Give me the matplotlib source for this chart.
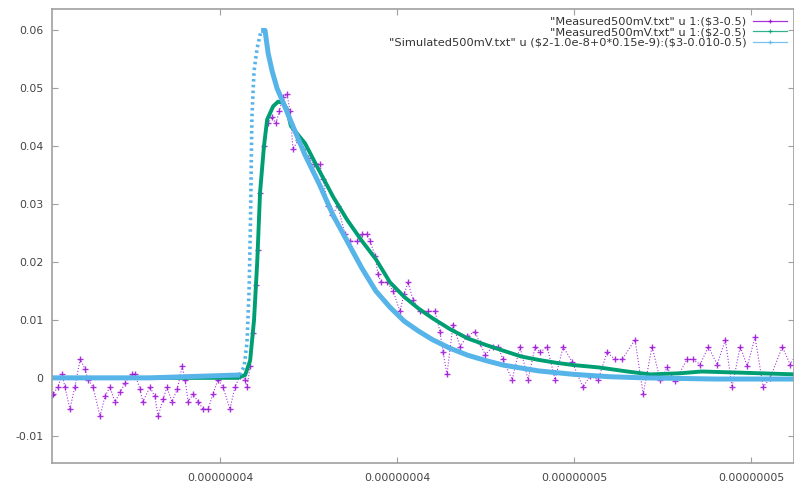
import numpy as np
import matplotlib
matplotlib.use("Agg")
import matplotlib.pyplot as plt
from matplotlib.lines import Line2D

# ---- data (time in ns, signal in V) ----
meas3_t = [35.25, 35.28, 35.42, 35.54, 35.62, 35.76, 35.90, 36.05, 36.19, 36.27, 36.41,
           36.61, 36.75, 36.89, 37.03, 37.18, 37.32, 37.51, 37.60, 37.74, 37.82,
           38.02, 38.16, 38.25, 38.39, 38.50, 38.64, 38.79, 38.93, 39.01, 39.10,
           39.24, 39.38, 39.52, 39.66, 39.80, 39.94, 40.08, 40.28, 40.42, 40.56,
           40.71, 40.76, 40.85, 40.93, 41.02, 41.07, 41.13, 41.24, 41.36, 41.47,
           41.58, 41.67, 41.78, 41.89, 41.98, 42.06, 42.20, 42.34, 42.49, 42.66,
           42.82, 42.91, 43.05, 43.16, 43.33, 43.53, 43.67, 43.87, 44.01, 44.15,
           44.24, 44.38, 44.46, 44.55, 44.72, 44.89, 45.08, 45.20, 45.31, 45.45,
           45.65, 45.88, 46.07, 46.21, 46.30, 46.41, 46.58, 46.78, 46.98, 47.20,
           47.34, 47.49, 47.71, 47.85, 47.99, 48.25, 48.47, 48.70, 48.90, 49.04,
           49.24, 49.46, 49.69, 49.94, 50.25, 50.45, 50.68, 50.93, 51.16, 51.36,
           51.72, 51.95, 52.20, 52.43, 52.63, 52.85, 53.19, 53.36, 53.56, 53.79,
           54.04, 54.27, 54.46, 54.69, 54.89, 55.11, 55.34, 55.54, 55.88, 56.10, 56.27]
meas3_v = [-0.0030, -0.0028, -0.0016, 0.0006, -0.0016, -0.0054, -0.0015, 0.0032, 0.0015, -0.0003, -0.0015,
           -0.0066, -0.0032, -0.0016, -0.0041, -0.0025, -0.0008, 0.0006, 0.0006, -0.0020, -0.0041,
           -0.0016, -0.0032, -0.0066, -0.0037, -0.0016, -0.0041, -0.0020, 0.0020, -0.0003, -0.0041,
           -0.0028, -0.0041, -0.0054, -0.0054, -0.0028, -0.0003, -0.0015, -0.0054, -0.0016, 0.0003,
           -0.0003, -0.0016, 0.0020, 0.0078, 0.0160, 0.0220, 0.0320, 0.0400, 0.0440, 0.0450,
           0.0440, 0.0460, 0.0485, 0.0490, 0.0460, 0.0395, 0.0410, 0.0395, 0.0380, 0.0370,
           0.0369, 0.0343, 0.0296, 0.0282, 0.0296, 0.0248, 0.0236, 0.0236, 0.0248, 0.0248,
           0.0236, 0.0210, 0.0179, 0.0165, 0.0165, 0.0150, 0.0115, 0.0145, 0.0165, 0.0135,
           0.0115, 0.0115, 0.0115, 0.0080, 0.0044, 0.0006, 0.0092, 0.0054, 0.0072, 0.0080,
           0.0060, 0.0040, 0.0054, 0.0054, 0.0032, -0.0003, 0.0054, -0.0003, 0.0054, 0.0044,
           0.0054, -0.0003, 0.0054, 0.0028, -0.0016, 0.0003, -0.0003, 0.0044, 0.0032, 0.0032,
           0.0066, -0.0028, 0.0054, -0.0003, 0.0018, -0.0006, 0.0032, 0.0032, 0.0023, 0.0054,
           0.0023, 0.0066, -0.0016, 0.0054, 0.0020, 0.0070, -0.0016, 0.0000, 0.0054, 0.0023, 0.0040]

meas2_t = [35.25, 38.00, 40.50, 40.71, 40.85, 40.96, 41.05, 41.13, 41.24, 41.33, 41.50,
           41.64, 41.78, 41.89, 42.00, 42.40, 42.80, 43.20, 43.60, 44.00, 44.40,
           44.80, 45.20, 45.60, 46.00, 46.50, 47.00, 47.50, 48.00, 48.50, 49.00,
           49.50, 50.00, 50.70, 51.50, 52.15, 53.00, 53.60, 54.70, 56.27]
meas2_v = [0.0000, 0.0000, 0.0000, 0.0005, 0.0030, 0.0100, 0.0200, 0.0320, 0.0400, 0.0446, 0.0469,
           0.0477, 0.0475, 0.0464, 0.0435, 0.0405, 0.0358, 0.0312, 0.0272, 0.0237, 0.0205,
           0.0165, 0.0140, 0.0120, 0.0103, 0.0084, 0.0068, 0.0057, 0.0047, 0.0037, 0.0031,
           0.0026, 0.0022, 0.0018, 0.0011, 0.0006, 0.0008, 0.0011, 0.0009, 0.0006]

sim_t = [35.25, 38.00, 40.56, 40.68, 40.76, 40.82, 40.86, 40.90, 40.96, 41.05, 41.16,
         41.27, 41.36, 41.47, 41.61, 41.78, 42.00, 42.40, 42.80, 43.20, 43.60,
         44.00, 44.40, 44.80, 45.20, 45.60, 46.00, 46.50, 47.00, 47.50, 48.00,
         48.50, 49.00, 50.00, 51.00, 52.00, 54.00, 56.27]
sim_v = [0.0000, 0.0000, 0.0005, 0.0020, 0.0060, 0.0150, 0.0270, 0.0450, 0.0530, 0.0570, 0.0600,
         0.0600, 0.0560, 0.0530, 0.0500, 0.0476, 0.0443, 0.0385, 0.0335, 0.0280, 0.0235,
         0.0190, 0.0150, 0.0122, 0.0098, 0.0081, 0.0066, 0.0051, 0.0039, 0.0030, 0.0022,
         0.0017, 0.0012, 0.0006, 0.0002, 0.0000, -0.0002, -0.0002]

labels = ['"Measured500mV.txt" u 1:($3-0.5)',
          '"Measured500mV.txt" u 1:($2-0.5)',
          '"Simulated500mV.txt" u ($2-1.0e-8+0*0.15e-9):($3-0.010-0.5)']

xticks_ns = [40, 45, 50, 55]
xtick_labels = ['0.00000004', '0.00000004', '0.00000005', '0.00000005']
yticks = [-0.01, 0, 0.01, 0.02, 0.03, 0.04, 0.05, 0.06]
ytick_labels = ['-0.01', '0', '0.01', '0.02', '0.03', '0.04', '0.05', '0.06']

purple = '#9400d3'
green = '#009e73'
blue = '#56b4e9'
gray = '#a0a0a0'

plt.rcParams['font.family'] = ['DejaVu Sans']
plt.rcParams['text.parse_math'] = False  # labels contain $ signs

fig = plt.figure(figsize=(7.94, 4.91), dpi=100)
ax = fig.add_axes([52 / 794, 1 - 463 / 491, 1 - 52 / 794, (463 - 9) / 491])

t3 = np.array(meas3_t) * 1e-9
t2 = np.array(meas2_t) * 1e-9
ts = np.array(sim_t) * 1e-9
sv = np.array(sim_v)

ax.plot(t3, meas3_v, color=purple, lw=0.8, ls=':', marker='+', ms=4, mew=1.0, alpha=0.8)
ax.plot(t2, meas2_v, color=green, lw=2.8)

# simulated: thick line, but the steep rise shows as separate dots
i0 = sim_t.index(40.56)
i1 = sim_t.index(41.16)
ax.plot(ts[:i0 + 1], sv[:i0 + 1], color=blue, lw=3.6, solid_capstyle='butt')
ax.plot(ts[i0:i1 + 1], sv[i0:i1 + 1], color=blue, lw=2.6, ls=(0, (0.7, 0.9)))
ax.plot(ts[i1:], sv[i1:], color=blue, lw=3.6, solid_capstyle='butt')

ax.set_xlim(35.254e-9, 56.21e-9)
ax.set_ylim(-0.0147, 0.0637)
ax.set_xticks(np.array(xticks_ns) * 1e-9)
ax.set_xticklabels(xtick_labels)
ax.set_yticks(yticks)
ax.set_yticklabels(ytick_labels)

for s in ax.spines.values():
    s.set_color(gray)
    s.set_linewidth(1.2)
ax.tick_params(direction='in', length=4, width=0.8, color=gray,
               labelsize=7.8, labelcolor='#444444', top=True, right=True)
ax.tick_params(axis='y', pad=6)
ax.tick_params(axis='x', pad=7)

handles = [Line2D([], [], color=c, lw=0.9, marker='+', ms=3.5, mew=0.9, alpha=0.8)
           for c in (purple, green, blue)]
leg = ax.legend(handles, labels, loc='upper right', bbox_to_anchor=(1.0, 0.998),
                frameon=False, markerfirst=False, fontsize=8.2, handlelength=3.0,
                handletextpad=0.6, labelspacing=0.05, borderpad=0.1)
for t in leg.get_texts():
    t.set_color('#333333')

fig.savefig('out.png', dpi=100)
